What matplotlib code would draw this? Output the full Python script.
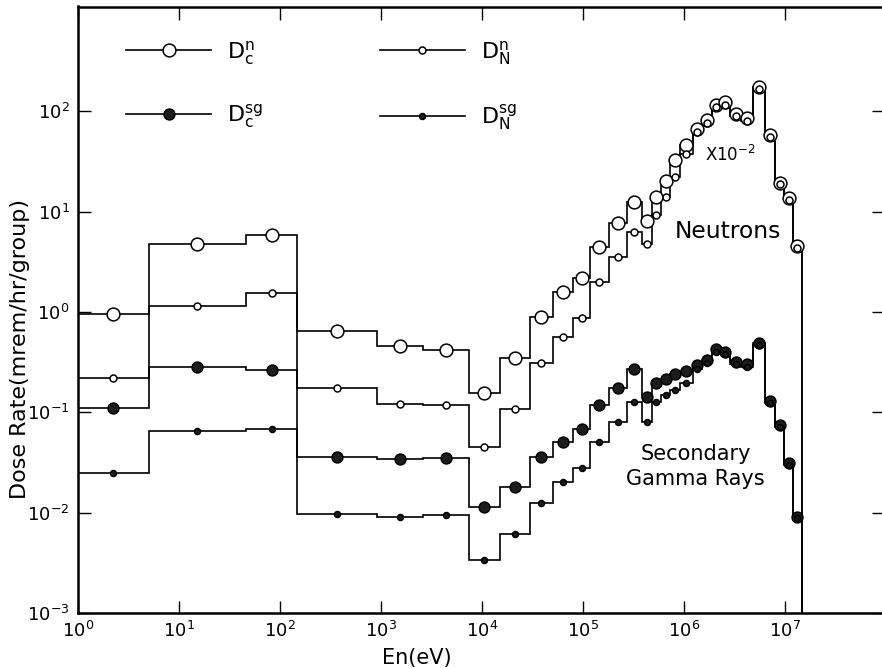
import numpy as np
import matplotlib.pyplot as plt
from matplotlib.lines import Line2D

# energy group boundaries (eV)
edges = [1.0, 5.0, 46, 148, 910, 2.6e3, 7.4e3, 1.5e4, 3.0e4, 5.0e4, 8.0e4,
         1.17e5, 1.8e5, 2.7e5, 3.8e5, 4.8e5, 5.9e5, 7.3e5, 9.1e5, 1.23e6,
         1.5e6, 1.9e6, 2.3e6, 2.85e6, 3.7e6, 4.8e6, 6.3e6, 8.0e6, 9.8e6,
         1.2e7, 1.47e7]

# dose rate per group (mrem/hr/group), neutrons already scaled by 1e-2
dc_n = [0.95, 4.8, 5.8, 0.64, 0.46, 0.42, 0.155, 0.35, 0.89, 1.6, 2.17,
        4.4, 7.7, 12.6, 8.1, 14.1, 20.4, 32.7, 46, 67, 82, 116, 123, 94,
        85, 174, 58, 19.5, 13.6, 4.5]
dn_n = [0.22, 1.16, 1.54, 0.173, 0.121, 0.118, 0.045, 0.107, 0.31, 0.57,
        0.865, 1.98, 3.56, 6.3, 4.8, 9.3, 14.1, 22.4, 38, 62, 77, 110, 117,
        90, 81, 168, 56, 18.8, 13.1, 4.35]
dc_sg = [0.11, 0.28, 0.264, 0.0356, 0.0345, 0.0353, 0.0115, 0.0181, 0.036,
         0.051, 0.068, 0.118, 0.173, 0.268, 0.141, 0.195, 0.215, 0.24, 0.26,
         0.296, 0.33, 0.425, 0.40, 0.32, 0.30, 0.49, 0.13, 0.075, 0.031,
         0.0091]
dn_sg = [0.025, 0.065, 0.069, 0.0098, 0.0091, 0.0095, 0.0034, 0.0061,
         0.0124, 0.020, 0.0277, 0.051, 0.0805, 0.128, 0.080, 0.128, 0.149,
         0.167, 0.196, 0.27, 0.31, 0.40, 0.38, 0.30, 0.285, 0.47, 0.125,
         0.072, 0.030, 0.0088]

labels = [r'$\mathrm{D_c^n}$', r'$\mathrm{D_N^n}$',
          r'$\mathrm{D_c^{sg}}$', r'$\mathrm{D_N^{sg}}$']

plt.rcParams['font.family'] = 'DejaVu Sans'
plt.rcParams['mathtext.fontset'] = 'dejavusans'

edges = np.array(edges)
centers = np.sqrt(edges[:-1] * edges[1:])

fig = plt.figure(figsize=(8.82, 6.68), dpi=100)
ax = fig.add_axes([78 / 882, 55 / 668, 806 / 882, 606.5 / 668])

# (values, marker size, face colour, zorder)
styles = [
    (dc_n, 9.2, 'white', 3),
    (dc_sg, 7.8, '#1c1c1c', 3),
    (dn_n, 5.0, 'white', 4),
    (dn_sg, 4.3, '#1c1c1c', 4),
]
for vals, ms, fc, z in styles:
    ax.stairs(vals, edges, baseline=1e-5, color='k', lw=1.2, zorder=2)
    ax.plot(centers, vals, 'o', ms=ms, mfc=fc, mec='k', mew=1.1, zorder=z)

ax.set_xscale('log')
ax.set_yscale('log')
ax.set_xlim(1, 10 ** (806 / 101))
ax.set_ylim(1e-3, 10 ** 3.045)
ax.set_xticks([10.0 ** k for k in range(8)])
ax.set_yticks([10.0 ** k for k in range(-3, 3)])
ax.minorticks_off()
ax.tick_params(which='major', direction='in', length=9, width=1.0,
               top=True, right=True, labelsize=13, pad=6)
for s in ax.spines.values():
    s.set_linewidth(1.8)
# right frame edge falls off the page, only its ticks show
ax.spines['right'].set_visible(False)

ax.text(-0.072, 0.435, 'Dose Rate(mrem/hr/group)', rotation=90,
        ha='center', va='center', fontsize=16, transform=ax.transAxes)
ax.text(0.42, -0.058, 'En(eV)', ha='center', va='top', fontsize=15,
        transform=ax.transAxes)

ax.text(1.6e6, 37, r'X$\mathrm{10^{-2}}$', fontsize=12, ha='left',
        va='center')
ax.text(8.1e5, 6.3, 'Neutrons', fontsize=16.8, ha='left', va='center')
ax.text(1.3e6, 0.029, 'Secondary\nGamma Rays', fontsize=15, ha='center',
        va='center', linespacing=1.3)

handles = [Line2D([], [], color='k', lw=1.2, marker='o', ms=ms, mfc=fc,
                  mec='k', mew=1.1) for _, ms, fc, _ in styles]
ax.legend(handles, [labels[0], labels[2], labels[1], labels[3]], ncol=2,
          loc='upper left', bbox_to_anchor=(0.06, 0.947), frameon=False,
          fontsize=16, handlelength=3.8, handletextpad=0.75,
          columnspacing=5.25, labelspacing=1.6, borderpad=0,
          borderaxespad=0)

fig.savefig('out.png', dpi=100)
